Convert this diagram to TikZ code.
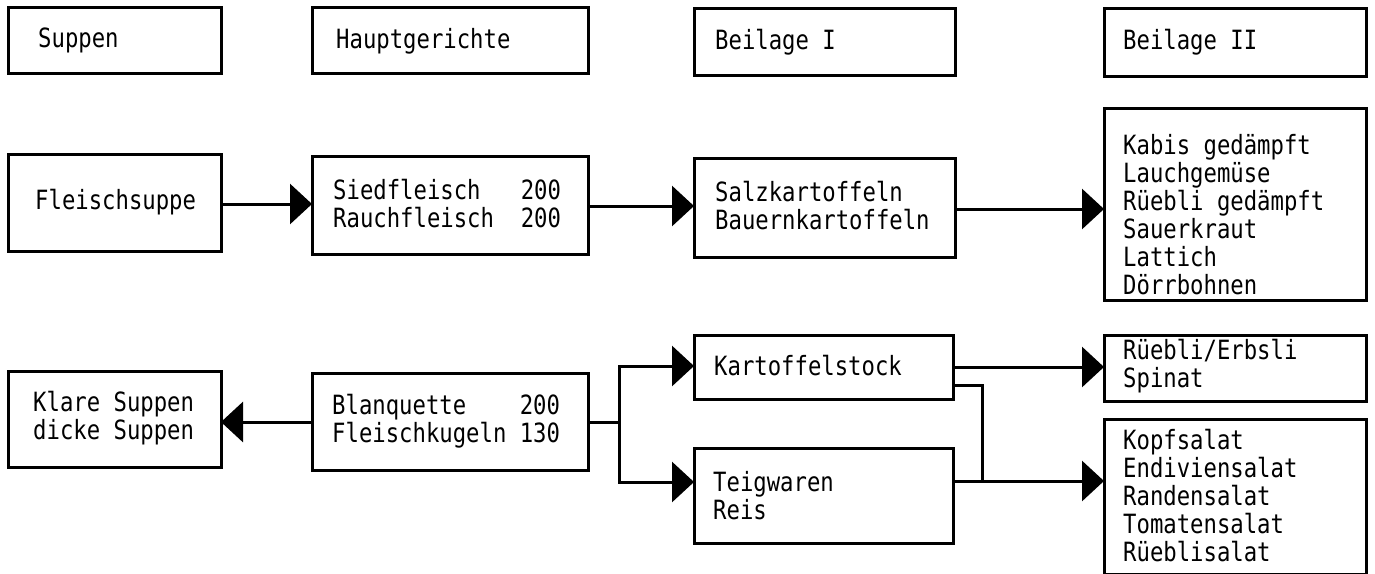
\documentclass[tikz,border=0pt]{standalone}
\usepackage{fontspec}
\setmonofont[FakeStretch=0.84]{DejaVu Sans Mono}
\usetikzlibrary{arrows.meta}
\newcommand\mkbox[5]{\node[box, minimum width={#4-#2}, minimum height={#5-#3}] (#1) at ({(#2+#4)/2},{(#3+#5)/2}) {};}
\begin{document}
\begin{tikzpicture}[x=1pt,y=-1pt,
  box/.style={draw, line width=3pt, inner sep=0pt, outer sep=0pt},
  txt/.style={font=\ttfamily\fontsize{26.5}{28}\selectfont, inner sep=0pt, align=left, anchor=west},
  conn/.style={line width=3pt},
  arr/.style={line width=3pt, -{Triangle[length=22pt,width=40pt]}}]
\useasboundingbox (0,0) rectangle (1375,573);
% headers
\mkbox{hs}{8}{7}{221}{73}
\mkbox{hh}{312}{7}{588}{73}
\mkbox{hb}{694}{8}{955}{75}
\mkbox{hc}{1104}{8}{1366}{76}
\node[txt] (ths) at (38,40) {Suppen};
\node[txt] (thh) at (336,41) {Hauptgerichte};
\node[txt] (thb) at (715,42) {Beilage I};
\node[txt] (thc) at (1123,42) {Beilage II};
% row 1
\mkbox{fs}{8}{154}{221}{251}
\mkbox{sf}{312}{156}{588}{254}
\mkbox{sk}{694}{158}{955}{257}
\mkbox{kb}{1104}{108}{1366}{300}
\node[txt] (tfs) at (35,202) {Fleischsuppe};
\node[txt] (tsf) at (333,204) {Siedfleisch~~~200\\Rauchfleisch~~200};
\node[txt] (tsk) at (715,206) {Salzkartoffeln\\Bauernkartoffeln};
\node[txt] (tkb) at (1123,215) {Kabis gedämpft\\Lauchgemüse\\Rüebli gedämpft\\Sauerkraut\\Lattich\\Dörrbohnen};
% row 2
\mkbox{kl}{8}{371}{221}{467}
\mkbox{bl}{312}{373}{588}{470}
\mkbox{ks}{694}{335}{953}{399}
\mkbox{tw}{694}{448}{953}{543}
\mkbox{re}{1104}{335}{1366}{401}
\mkbox{ko}{1104}{419}{1366}{574}
\node[txt] (tkl) at (33,418) {Klare Suppen\\dicke Suppen};
\node[txt] (tbl) at (332,421) {Blanquette~~~~200\\Fleischkugeln~130};
\node[txt] (tks) at (714,366) {Kartoffelstock};
\node[txt] (ttw) at (713,496) {Teigwaren\\Reis};
\node[txt] (tre) at (1123,366) {Rüebli/Erbsli\\Spinat};
\node[txt] (tko) at (1123,496) {Kopfsalat\\Endiviensalat\\Randensalat\\Tomatensalat\\Rüeblisalat};
% connector levels
\coordinate (y1) at (0,204);
\coordinate (y2) at (0,206);
\coordinate (y3) at (0,209);
\coordinate (y4) at (0,422);
\coordinate (j) at (619,422);
\coordinate (ya) at (0,366);
\coordinate (yb) at (0,482);
\coordinate (yc) at (0,367);
\coordinate (yd) at (0,385);
\coordinate (m) at (982,481);
\coordinate (ye) at (0,481);
% connectors
\draw[arr] (fs.east |- y1) -- (sf.west |- y1);
\draw[arr] (sf.east |- y2) -- (sk.west |- y2);
\draw[arr] (sk.east |- y3) -- (kb.west |- y3);
\draw[arr] (bl.west |- y4) -- (kl.east |- y4);
\draw[conn] (bl.east |- y4) -- (j);
\draw[arr] (j) |- (ks.west |- ya);
\draw[arr] (j) |- (tw.west |- yb);
\draw[arr] (ks.east |- yc) -- (re.west |- yc);
\draw[conn] (ks.east |- yd) -| (m);
\draw[arr] (tw.east |- ye) -- (ko.west |- ye);
\end{tikzpicture}
\end{document}
